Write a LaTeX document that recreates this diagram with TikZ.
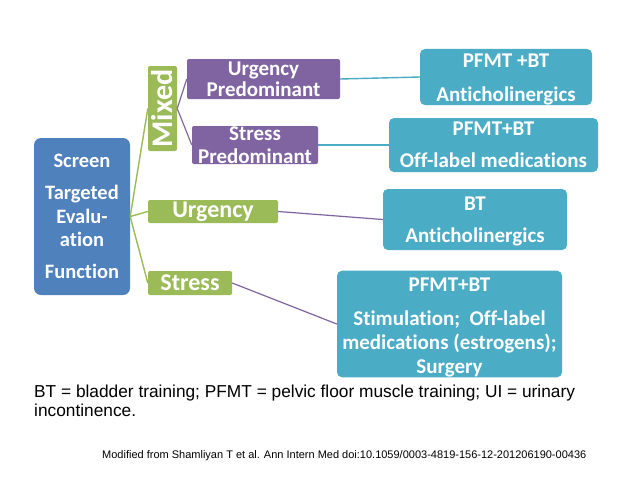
\documentclass[tikz,border=0pt]{standalone}
\usepackage{fontspec}
\setmainfont[Ligatures=NoCommon]{Carlito}
\newfontfamily\arialfont{Liberation Sans}
\definecolor{cblue}{HTML}{4F81BD}
\definecolor{cgreen}{HTML}{9BBB59}
\definecolor{cpurple}{HTML}{8064A2}
\definecolor{cteal}{HTML}{4BACC6}
\newcommand{\topgap}[1]{\rule{0pt}{#1}}
\tikzset{
  boxbase/.style={inner sep=0pt, text=white, align=center},
  bluebox/.style={boxbase, fill=cblue, rounded corners=7pt,
    font=\fontsize{20.5}{23.5}\selectfont\bfseries},
  greenbox/.style={boxbase, fill=cgreen, rounded corners=2pt,
    font=\fontsize{24}{24}\selectfont\bfseries},
  purplebox/.style={boxbase, fill=cpurple, rounded corners=2pt,
    font=\fontsize{21}{21}\selectfont\bfseries},
  tealbox/.style={boxbase, fill=cteal, rounded corners=5pt,
    font=\fontsize{21}{24}\selectfont\bfseries},
  gline/.style={draw=cgreen, line width=1.4pt},
  pline/.style={draw=cpurple, line width=1.2pt},
  tline/.style={draw=cteal, line width=1.4pt}
}
\begin{document}
\begin{tikzpicture}[x=1pt,y=-1pt]
\fill[white] (0,0) rectangle (640,480);
\useasboundingbox (0,0) rectangle (640,480);
% main nodes
\node[bluebox, minimum width=96pt, minimum height=157pt] (screen) at (82,216.5)
  {Screen\\[8.5pt]Targeted\\Evalu-\\ation\\[8.5pt]Function};
% rotated node: its north side faces left, its south side faces right
\node[greenbox, rotate=90, minimum width=85pt, minimum height=29pt,
  font=\fontsize{30}{30}\selectfont\bfseries] (mixed) at (162.5,108.5)
  {\resizebox{78pt}{!}{Mixed}};
\node[greenbox, minimum width=130pt, minimum height=23pt] (urg) at (213,211.5) {Urgency};
\node[greenbox, minimum width=84pt, minimum height=24pt] (str) at (190,283) {Stress};
\node[purplebox, minimum width=153pt, minimum height=40pt] (up) at (263.5,79)
  {Urgency\\Predominant};
\node[purplebox, minimum width=126pt, minimum height=38pt,
  font=\fontsize{21}{23}\selectfont\bfseries] (sp) at (255,145)
  {Stress\\Predominant};
\node[tealbox, minimum width=172pt, minimum height=52pt] (b1) at (506,77)
  {\topgap{18.5pt}PFMT +BT\\[10pt]Anticholinergics};
\node[tealbox, minimum width=209pt, minimum height=54pt] (b2) at (493.5,145)
  {PFMT+BT\\[8pt]Off-label medications};
\node[tealbox, minimum width=184pt, minimum height=61pt] (b3) at (475,219.5)
  {\topgap{18.5pt}BT\\[8pt]Anticholinergics};
\node[tealbox, minimum width=225pt, minimum height=98pt] (b4) at (449.5,324)
  {\topgap{21pt}PFMT+BT\\[10pt]Stimulation;\ \ Off-label\\medications (estrogens);\\Surgery};
% connectors
\draw[gline] (screen.east) -- (mixed.north);
\draw[gline] (screen.east) -- (urg.west);
\draw[gline] (screen.east) -- (str.west);
\draw[pline] (mixed.south) -- (up.west);
\draw[pline] (mixed.south) -- (sp.west);
\draw[tline] (up.east) -- (b1.west);
\draw[tline] (sp.east) -- (b2.west);
\draw[pline] (urg.east) -- (b3.west);
\draw[pline] (str.east) -- (b4.west);
% footer
\node[anchor=north west, inner sep=0pt, align=left,
  font=\arialfont\fontsize{17.3}{19}\selectfont] (legend) at (34,384.4)
  {BT = bladder training; PFMT = pelvic floor muscle training; UI = urinary\\incontinence.};
\node[anchor=base west, inner sep=0pt,
  font=\arialfont\fontsize{11}{13}\selectfont] (cite) at (102,458)
  {Modified from Shamliyan T et al. Ann Intern Med doi:10.1059/0003-4819-156-12-201206190-00436};
\end{tikzpicture}
\end{document}
